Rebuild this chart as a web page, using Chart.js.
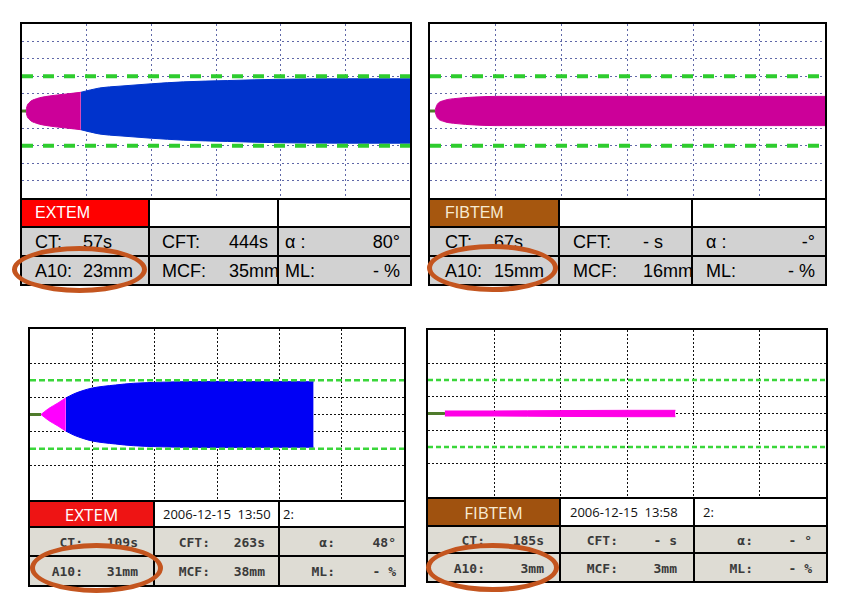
<!DOCTYPE html>
<html>
<head>
<meta charset="utf-8">
<script src="https://cdn.jsdelivr.net/npm/chart.js@4.4.1/dist/chart.umd.min.js"></script>
<style>
  html, body { margin: 0; padding: 0; background: #fff; }
  body { position: relative; width: 847px; height: 597px; overflow: hidden; }
  .plot { position: absolute; border: 2px solid #000; box-sizing: border-box; background: #fff; }
  .plot canvas { display: block; }
  .tbl { position: absolute; display: grid; border: 2px solid #000; box-sizing: border-box; background: #000; gap: 2px; }
  .c { position: relative; overflow: visible; }
  .c span { position: absolute; top: 50%; transform: translateY(-50%); white-space: pre; }
  .top .c { font: 18px "Liberation Sans", Arial, sans-serif; color: #000; }
  .bot .c { font: bold 13px "DejaVu Sans Mono", monospace; color: #3a3a3a; }
  .ring { position: absolute; border: 5px solid #c4551f; border-radius: 50%; box-sizing: border-box; z-index: 5; }
</style>
</head>
<body>

<div class="plot" style="left:20px;top:22px;width:392px;height:178px"><canvas id="c1" width="388" height="174"></canvas></div>
<div class="plot" style="left:428px;top:22px;width:399px;height:178px"><canvas id="c2" width="395" height="174"></canvas></div>
<div class="plot" style="left:28px;top:327px;width:378px;height:175px"><canvas id="c3" width="374" height="171"></canvas></div>
<div class="plot" style="left:426px;top:328px;width:402px;height:171px"><canvas id="c4" width="398" height="167"></canvas></div>

<div class="ring" style="left:12px;top:246px;width:135px;height:47px"></div>
<div class="ring" style="left:427px;top:244px;width:131px;height:48px"></div>
<div class="ring" style="left:30px;top:543px;width:133px;height:50px"></div>
<div class="ring" style="left:426px;top:543px;width:133px;height:49px"></div>

<script>
// time axis in minutes, amplitude in mm (full clot firmness, drawn symmetric)
const xGridMinutes = [10, 20, 30, 40, 50];
const yGridFine = [-40, -30, -20, -10, 0, 10, 20, 30, 40];
const yGridCoarse = [-30, -10, 0, 10, 30];
const refLinesMm = [20, -20];

// EXTEM, top
const extemA_ct = 0.62;
const extemA_pinkTime = [0.62, 0.75, 1.1, 2.2, 4.2, 6.8, 9.1];
const extemA_pinkAmp  = [0, 5, 9.5, 14, 17.2, 19.5, 21.5];
const extemA_blueTime = [9.1, 12, 15, 20, 25, 31.8, 40, 50, 60];
const extemA_blueAmp  = [21.5, 26.5, 28.5, 31.3, 33.5, 35, 36.5, 37, 37];

// FIBTEM, top
const fibtemA_ct = 0.76;
const fibtemA_pinkTime = [0.76, 0.9, 1.1, 2.1, 4.1, 6.7, 10, 60];
const fibtemA_pinkAmp  = [0, 4, 7.6, 12, 14.5, 16, 16.8, 16.8];

// EXTEM, bottom
const extemB_ct = 1.76;
const extemB_pinkTime = [1.76, 3, 4.5, 5.75];
const extemB_pinkAmp  = [0, 7, 13.5, 19.4];
const extemB_blueTime = [5.75, 7, 8.5, 10, 13.7, 16.6, 21, 27, 35, 45.5];
const extemB_blueAmp  = [19.4, 24, 28, 31, 34.5, 36.5, 37.8, 38.5, 38.5, 38.3];

// FIBTEM, bottom
const fibtemB_ct = 2.54;
const fibtemB_pinkTime = [2.54, 10, 20, 30, 37.3];
const fibtemB_pinkAmp  = [3, 3, 3.5, 3.8, 3.8];

// result tables
const tblA1Head = ['EXTEM', '', ''];
const tblA1Labels = [['CT:', 'CFT:', 'α :'], ['A10:', 'MCF:', 'ML:']];
const tblA1Values = [['57s', '444s', '80°'], ['23mm', '35mm', '- %']];
const tblA2Head = ['FIBTEM', '', ''];
const tblA2Labels = [['CT:', 'CFT:', 'α :'], ['A10:', 'MCF:', 'ML:']];
const tblA2Values = [['67s', '- s', '-°'], ['15mm', '16mm', '- %']];
const tblB1Head = ['EXTEM', '2006-12-15  13:50', '2:'];
const tblB1Labels = [['CT:', 'CFT:', 'α:'], ['A10:', 'MCF:', 'ML:']];
const tblB1Values = [['109s', '263s', '48°'], ['31mm', '38mm', '- %']];
const tblB2Head = ['FIBTEM', '2006-12-15  13:58', '2:'];
const tblB2Labels = [['CT:', 'CFT:', 'α:'], ['A10:', 'MCF:', 'ML:']];
const tblB2Values = [['185s', '- s', '- °'], ['3mm', '3mm', '- %']];

function makeChart(id, s) {
  const half = (t, a, sign) => t.map((x, i) => ({ x: x, y: sign * a[i] / 2 }));
  const flat = (x0, x1, y) => [{ x: x0, y: y }, { x: x1, y: y }];
  const datasets = [];

  refLinesMm.forEach(v => datasets.push({
    data: flat(0, 60, v), borderColor: s.green, borderWidth: s.greenWidth,
    borderDash: s.greenDash, fill: false, order: 0
  }));
  datasets.push({ data: flat(0, s.ct, 0), borderColor: '#4f7b2c', borderWidth: 3, fill: false, order: 1 });

  s.fills.forEach(f => {
    datasets.push({
      data: half(f.t, f.a, 1), borderColor: f.color, backgroundColor: f.color,
      borderWidth: 1, fill: '+1', order: 2, cubicInterpolationMode: 'monotone'
    });
    datasets.push({
      data: half(f.t, f.a, -1), borderColor: f.color, borderWidth: 1,
      fill: false, order: 2, cubicInterpolationMode: 'monotone'
    });
  });

  const gridScale = (min, max, ticks) => ({
    type: 'linear', min: min, max: max,
    afterBuildTicks: sc => { sc.ticks = ticks.map(v => ({ value: v })); },
    ticks: { display: false },
    grid: { color: s.gridColor, lineWidth: 1, drawTicks: false },
    border: { display: false, dash: s.gridDash }
  });

  return new Chart(document.getElementById(id), {
    type: 'line',
    data: { datasets: datasets },
    options: {
      responsive: false,
      animation: false,
      devicePixelRatio: 1,
      layout: { padding: 0, autoPadding: false },
      plugins: { legend: { display: false }, tooltip: { enabled: false } },
      elements: { point: { radius: 0 }, line: { tension: 0 } },
      scales: {
        x: gridScale(0, 60, xGridMinutes),
        y: gridScale(-50, 50, s.yGrid)
      }
    }
  });
}

makeChart('c1', {
  ct: extemA_ct, yGrid: yGridFine, gridColor: '#6068a8', gridDash: [2, 3],
  green: '#2ecc2e', greenWidth: 4, greenDash: [11, 10],
  fills: [
    { t: extemA_pinkTime, a: extemA_pinkAmp, color: '#cc0099' },
    { t: extemA_blueTime, a: extemA_blueAmp, color: '#0033cc' }
  ]
});
makeChart('c2', {
  ct: fibtemA_ct, yGrid: yGridFine, gridColor: '#6068a8', gridDash: [2, 3],
  green: '#2ecc2e', greenWidth: 4, greenDash: [11, 10],
  fills: [{ t: fibtemA_pinkTime, a: fibtemA_pinkAmp, color: '#cc0099' }]
});
makeChart('c3', {
  ct: extemB_ct, yGrid: yGridCoarse, gridColor: '#111', gridDash: [2, 2],
  green: '#3ad63a', greenWidth: 2.5, greenDash: [6, 3],
  fills: [
    { t: extemB_pinkTime, a: extemB_pinkAmp, color: '#ff00ff' },
    { t: extemB_blueTime, a: extemB_blueAmp, color: '#0000f5' }
  ]
});
makeChart('c4', {
  ct: fibtemB_ct, yGrid: yGridCoarse, gridColor: '#111', gridDash: [2, 2],
  green: '#3ad63a', greenWidth: 2.5, greenDash: [5, 3],
  fills: [{ t: fibtemB_pinkTime, a: fibtemB_pinkAmp, color: '#ff00e6' }]
});

// tables: layout numbers only, texts come from the arrays above
function makeTable(t) {
  const el = document.createElement('div');
  el.className = 'tbl ' + t.kind;
  el.style.cssText = `left:${t.left}px;top:${t.top}px;width:${t.width}px;` +
    `grid-template-columns:${t.cols.map(c => c + 'px').join(' ')};` +
    `grid-template-rows:${t.rows.map(r => r + 'px').join(' ')};`;
  t.head.forEach((txt, i) => {
    const c = document.createElement('div');
    c.className = 'c';
    c.style.background = i === 0 ? t.headBg : '#fff';
    const sp = document.createElement('span');
    sp.textContent = txt;
    sp.style.cssText = t.headStyle[i];
    c.appendChild(sp);
    el.appendChild(c);
  });
  t.labels.forEach((row, r) => row.forEach((lab, i) => {
    const c = document.createElement('div');
    c.className = 'c';
    c.style.background = t.rowBg;
    const a = document.createElement('span');
    a.textContent = lab;
    a.style.cssText = t.labPos[i];
    const b = document.createElement('span');
    b.textContent = t.values[r][i];
    b.style.cssText = t.valPos[i];
    c.appendChild(a);
    c.appendChild(b);
    el.appendChild(c);
  }));
  document.body.appendChild(el);
}

const topHead = 'left:13px;color:#fff;font:16px "Liberation Sans",Arial,sans-serif;';
const botHeadTitle = 'left:0;right:0;text-align:center;font:17px "Open Sans",sans-serif;';
const botHeadDate = 'color:#111;font:13px "Open Sans",sans-serif;';

makeTable({
  kind: 'top', left: 20, top: 198, width: 392, cols: [126, 127, 131], rows: [26, 27, 27],
  head: tblA1Head, headBg: '#ff0000', rowBg: '#d2d2d2',
  headStyle: [topHead, '', ''],
  labels: tblA1Labels, values: tblA1Values,
  labPos: ['left:13px', 'left:12px', 'left:6px'],
  valPos: ['left:61px', 'left:79px', 'right:10px']
});
makeTable({
  kind: 'top', left: 428, top: 198, width: 399, cols: [128, 131, 132], rows: [26, 27, 27],
  head: tblA2Head, headBg: '#a6570f', rowBg: '#d2d2d2',
  headStyle: [topHead.replace('#fff', '#f7ead2').replace('13px', '15px'), '', ''],
  labels: tblA2Labels, values: tblA2Values,
  labPos: ['left:15px', 'left:13px', 'left:13px'],
  valPos: ['left:64px', 'left:83px', 'right:10px']
});
makeTable({
  kind: 'bot', left: 28, top: 500, width: 378, cols: [123, 123, 124], rows: [24, 27, 28],
  head: tblB1Head, headBg: '#ee1414', rowBg: '#dedcd4',
  headStyle: [botHeadTitle + 'color:#fff;', botHeadDate + 'left:8px;', botHeadDate + 'left:3px;'],
  labels: tblB1Labels, values: tblB1Values,
  labPos: ['right:70px', 'right:68px', 'right:69px'],
  valPos: ['right:15px', 'right:13px', 'right:8px']
});
makeTable({
  kind: 'bot', left: 426, top: 497, width: 402, cols: [131, 132, 131], rows: [26, 25, 27],
  head: tblB2Head, headBg: '#a0520f', rowBg: '#dedcd4',
  headStyle: [botHeadTitle + 'color:#f7ead2;', botHeadDate + 'left:9px;', botHeadDate + 'left:8px;'],
  labels: tblB2Labels, values: tblB2Values,
  labPos: ['right:74px', 'right:75px', 'right:73px'],
  valPos: ['right:15px', 'right:16px', 'right:14px']
});
</script>
</body>
</html>
